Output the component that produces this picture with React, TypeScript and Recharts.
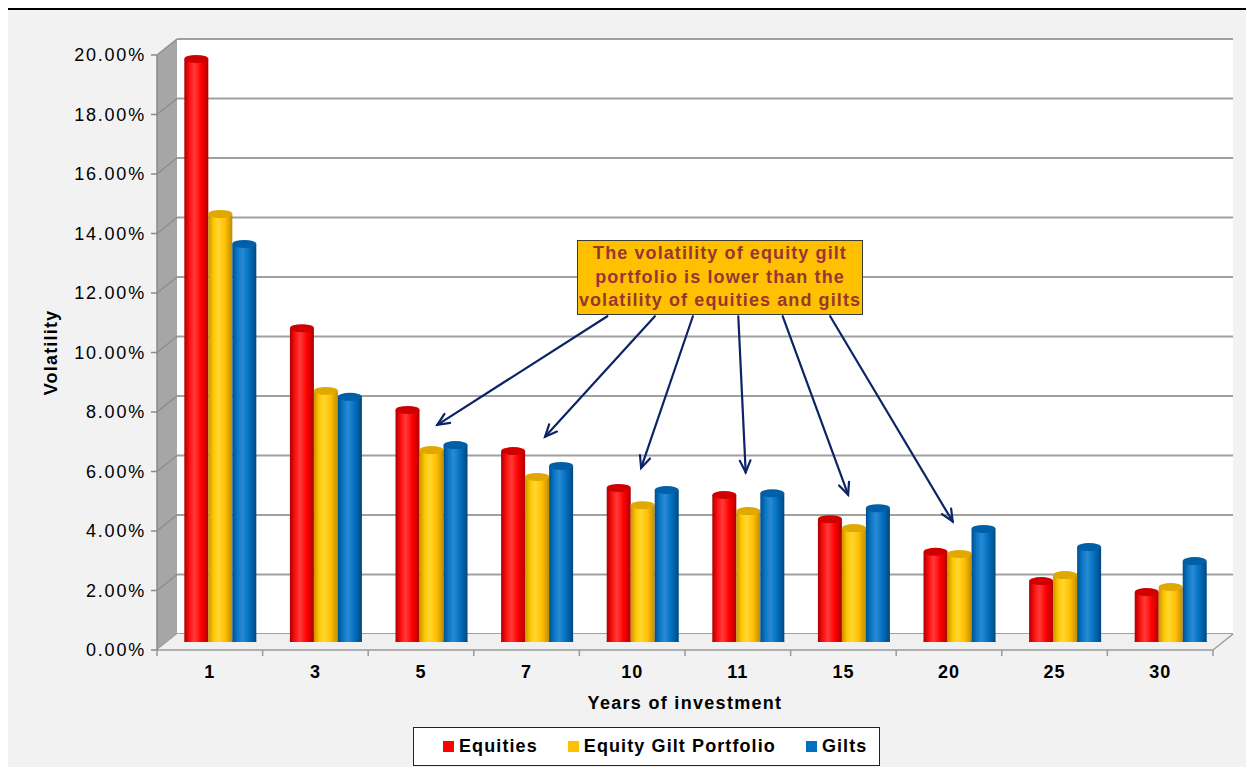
import React from 'react'
import { ComposedChart, Bar, XAxis, YAxis, CartesianGrid, ReferenceLine } from 'recharts'

// values (volatility as a fraction)
const years = ['1', '3', '5', '7', '10', '11', '15', '20', '25', '30']
const equities = [0.196, 0.1055, 0.078, 0.0642, 0.0518, 0.0494, 0.0413, 0.0303, 0.0205, 0.0168]
const equityGilt = [0.1439, 0.0844, 0.0645, 0.0555, 0.046, 0.044, 0.0383, 0.0296, 0.0225, 0.0185]
const gilts = [0.1338, 0.0824, 0.0662, 0.0592, 0.0511, 0.05, 0.045, 0.038, 0.0319, 0.0272]
const yTicks = [0, 0.02, 0.04, 0.06, 0.08, 0.1, 0.12, 0.14, 0.16, 0.18, 0.2]

const seriesKeys = ['equities', 'equityGilt', 'gilts']
const seriesNames = ['Equities', 'Equity Gilt Portfolio', 'Gilts']
const seriesColors = ['#ff0000', '#ffc000', '#0070c0']

// callout text and its arrows (x on a 0..10 category scale, y in value units)
const noteLines = ['The volatility of equity gilt', 'portfolio is lower than the', 'volatility of equities and gilts']
const arrowFromX = [4.17, 4.62, 4.98, 5.41, 5.83, 6.28]
const arrowFromY = 0.1095
const arrowToX = [2.56, 3.58, 4.49, 5.48, 6.45, 7.44]
const arrowToY = [0.073, 0.069, 0.0585, 0.057, 0.0495, 0.0405]

const data = years.map((year, i) => ({
  year,
  equities: equities[i],
  equityGilt: equityGilt[i],
  gilts: gilts[i],
}))

const arrows = arrowToX.map((toX, i) => ({ fromX: arrowFromX[i], toX, toY: arrowToY[i] }))

const W = 1254
const H = 775
const FONT = "'Liberation Sans', Arial, sans-serif"

// 3d box: front plane, back plane, bars sit half way
const FRONT = { left: 157, right: 1213, top: 55, bottom: 650 }
const DX = 20
const DY = -16
const BACK = { left: FRONT.left + DX, right: FRONT.right + DX, top: FRONT.top + DY, bottom: FRONT.bottom + DY }
const MID = { left: FRONT.left + DX / 2, right: FRONT.right + DX / 2, top: FRONT.top + DY / 2, bottom: FRONT.bottom + DY / 2 }
const midMargin = { top: MID.top, right: W - MID.right, bottom: H - MID.bottom, left: MID.left }

const bodyStops = [
  ['#a80000', '#ff1010', '#ff3b3b', '#ff0000', '#b00000'],
  ['#c89400', '#ffc800', '#ffd633', '#ffc000', '#c08c00'],
  ['#004f8c', '#0a78c8', '#2a8ad4', '#0070c0', '#00487e'],
]
const capColors = ['#d00000', '#e0a800', '#005fa6']

const pct = (v: number) => (v * 100).toFixed(2) + '%'

const Cylinder = (props: any) => {
  const { x, y, width, height, idx } = props
  if (!height || height <= 0) return null
  const rx = width / 2
  const ry = 4
  const fill = `url(#cyl${idx})`
  return (
    <g>
      <ellipse cx={x + rx} cy={y + height} rx={rx} ry={ry} fill={fill} />
      <rect x={x} y={y} width={width} height={height} fill={fill} />
      <ellipse cx={x + rx} cy={y} rx={rx} ry={ry} fill={capColors[idx]} />
    </g>
  )
}

const Arrow = (p: any) => {
  const { x1, y1, x2, y2 } = p
  const a = Math.atan2(y2 - y1, x2 - x1)
  const len = 13
  const s = 0.42
  const ax = x2 - len * Math.cos(a - s)
  const ay = y2 - len * Math.sin(a - s)
  const bx = x2 - len * Math.cos(a + s)
  const by = y2 - len * Math.sin(a + s)
  return (
    <g stroke="#0c2466" strokeWidth={2.2} fill="none" strokeLinecap="round">
      <line x1={x1} y1={y1} x2={x2} y2={y2} />
      <polyline points={`${ax},${ay} ${x2},${y2} ${bx},${by}`} />
    </g>
  )
}

const VolLabel = (p: any) => {
  const vb = p.viewBox || {}
  const cx = (vb.x || 0) + 51
  const cy = (vb.y || 0) + (vb.height || 0) / 2
  return (
    <text x={cx} y={cy} transform={`rotate(-90 ${cx} ${cy})`} textAnchor="middle" dominantBaseline="central"
      fontSize={18} fontWeight="bold" fill="#000" fontFamily={FONT} letterSpacing={1.2}>
      Volatility
    </text>
  )
}

const Walls = () => {
  const yf = (t: number) => FRONT.bottom - (t / 0.2) * (FRONT.bottom - FRONT.top)
  const yb = (t: number) => BACK.bottom - (t / 0.2) * (BACK.bottom - BACK.top)
  const step = (FRONT.right - FRONT.left) / years.length
  return (
    <svg width={W} height={H} style={{ position: 'absolute', left: 0, top: 0 }}>
      <polygon
        points={`${FRONT.left},${FRONT.bottom} ${FRONT.left},${FRONT.top} ${BACK.left},${BACK.top} ${BACK.left},${BACK.bottom}`}
        fill="#a6a6a6"
      />
      {yTicks.map((t) => (
        <line key={t} x1={FRONT.left} y1={yf(t)} x2={BACK.left} y2={yb(t)} stroke="#8c8c8c" strokeWidth={1.5} />
      ))}
      <polygon
        points={`${FRONT.left},${FRONT.bottom} ${FRONT.right},${FRONT.bottom} ${BACK.right},${BACK.bottom} ${BACK.left},${BACK.bottom}`}
        fill="#f0f0f0"
      />
      <line x1={FRONT.right} y1={FRONT.bottom} x2={BACK.right} y2={BACK.bottom} stroke="#9a9a9a" strokeWidth={1.5} />
      <line x1={FRONT.left} y1={FRONT.bottom} x2={FRONT.right} y2={FRONT.bottom} stroke="#9a9a9a" strokeWidth={1.5} />
      {Array.from({ length: years.length + 1 }, (_, i) => (
        <line key={i} x1={FRONT.left + i * step} y1={FRONT.bottom} x2={FRONT.left + i * step} y2={FRONT.bottom + 6} stroke="#9a9a9a" strokeWidth={1.5} />
      ))}
    </svg>
  )
}

export default function App() {
  return (
    <div style={{ position: 'relative', width: W, height: H, margin: -8, overflow: 'hidden', fontFamily: FONT, background: '#fff' }}>
      <div
        style={{
          position: 'absolute', left: 6, top: 8, width: W + 20, height: H + 20,
          border: '2px solid #000', background: '#f2f2f2',
        }}
      />

      {/* back wall + gridlines */}
      <div style={{ position: 'absolute', left: 0, top: 0 }}>
        <ComposedChart width={W} height={H} data={data}
          margin={{ top: BACK.top, right: W - BACK.right, bottom: H - BACK.bottom, left: BACK.left }}>
          <CartesianGrid vertical={false} stroke="#a0a0a0" strokeWidth={2} fill="#ffffff" fillOpacity={1} />
          <XAxis dataKey="year" hide />
          <YAxis hide domain={[0, 0.2]} ticks={yTicks} />
          <Bar dataKey="equities" fill="transparent" isAnimationActive={false} />
        </ComposedChart>
      </div>

      <Walls />

      {/* front axes */}
      <div style={{ position: 'absolute', left: 0, top: 0 }}>
        <ComposedChart width={W} height={H} data={data}
          margin={{ top: FRONT.top, right: W - FRONT.right, bottom: 0, left: 0 }}>
          <XAxis dataKey="year" height={H - FRONT.bottom} axisLine={false} tickLine={false} tickSize={6} tickMargin={9}
            interval={0}
            tick={{ fontSize: 18, fontWeight: 'bold', fill: '#000', fontFamily: FONT, letterSpacing: 1 }}
            label={{ value: 'Years of investment', position: 'insideBottom', offset: 66, fontSize: 18, fontWeight: 'bold', fill: '#000', fontFamily: FONT, letterSpacing: 1.3 }} />
          <YAxis width={FRONT.left} domain={[0, 0.2]} ticks={yTicks} tickFormatter={pct}
            axisLine={{ stroke: '#8a8a8a', strokeWidth: 1.5 }} tickLine={{ stroke: '#8a8a8a', strokeWidth: 1.5 }}
            tickSize={6} tickMargin={5}
            tick={{ fontSize: 18, fill: '#000', fontFamily: FONT, letterSpacing: 1.8 }}
            label={<VolLabel />} />
          <Bar dataKey="equities" fill="transparent" isAnimationActive={false} />
        </ComposedChart>
      </div>

      {/* cylinders */}
      <div style={{ position: 'absolute', left: 0, top: 0 }}>
        <ComposedChart width={W} height={H} data={data} barCategoryGap="16.4%" barGap={0} margin={midMargin}>
          <defs>
            {bodyStops.map((stops, i) => (
              <linearGradient key={i} id={`cyl${i}`} x1="0" y1="0" x2="1" y2="0">
                {stops.map((c, j) => (
                  <stop key={j} offset={[0, 0.22, 0.42, 0.7, 1][j]} stopColor={c} />
                ))}
              </linearGradient>
            ))}
          </defs>
          <XAxis dataKey="year" hide />
          <YAxis hide domain={[0, 0.2]} ticks={yTicks} allowDataOverflow />
          {seriesKeys.map((k, i) => (
            <Bar key={k} dataKey={k} name={seriesNames[i]} fill={seriesColors[i]}
              isAnimationActive={false} shape={(p: any) => <Cylinder {...p} idx={i} />} />
          ))}
        </ComposedChart>
      </div>

      {/* arrows, on a numeric 0..10 axis across the same plot area */}
      <div style={{ position: 'absolute', left: 0, top: 0 }}>
        <ComposedChart width={W} height={H} data={arrows} margin={midMargin}>
          <XAxis dataKey="toX" type="number" domain={[0, years.length]} allowDataOverflow hide />
          <YAxis dataKey="toY" type="number" domain={[0, 0.2]} allowDataOverflow hide />
          {arrows.map((a, i) => (
            <ReferenceLine key={i} ifOverflow="visible"
              segment={[{ x: a.fromX, y: arrowFromY }, { x: a.toX, y: a.toY }]}
              shape={(p: any) => <Arrow {...p} />} />
          ))}
        </ComposedChart>
      </div>

      {/* callout */}
      <div
        style={{
          position: 'absolute', left: 577, top: 240, width: 286, height: 75,
          background: '#ffc000', border: '1.5px solid #3a3a3a', color: '#953735',
          fontWeight: 'bold', fontSize: 18, letterSpacing: 1.1, lineHeight: '23.5px', textAlign: 'center',
          boxSizing: 'border-box', paddingTop: 1, whiteSpace: 'nowrap',
        }}
      >
        {noteLines.map((l) => (
          <div key={l}>{l}</div>
        ))}
      </div>

      {/* legend */}
      <div
        style={{
          position: 'absolute', left: 413, top: 727, width: 467, height: 39,
          background: '#fff', border: '1.5px solid #222', boxSizing: 'border-box',
          display: 'flex', alignItems: 'center', paddingLeft: 29, whiteSpace: 'nowrap',
          fontWeight: 'bold', fontSize: 18, letterSpacing: 1.1, color: '#000', overflow: 'hidden',
        }}
      >
        {seriesNames.map((n, i) => (
          <div key={n} style={{ display: 'flex', alignItems: 'center', flexShrink: 0, marginRight: i < seriesNames.length - 1 ? 30 : 0 }}>
            <span style={{ display: 'inline-block', width: 11, height: 11, background: seriesColors[i], marginRight: 5 }} />
            {n}
          </div>
        ))}
      </div>
    </div>
  )
}
